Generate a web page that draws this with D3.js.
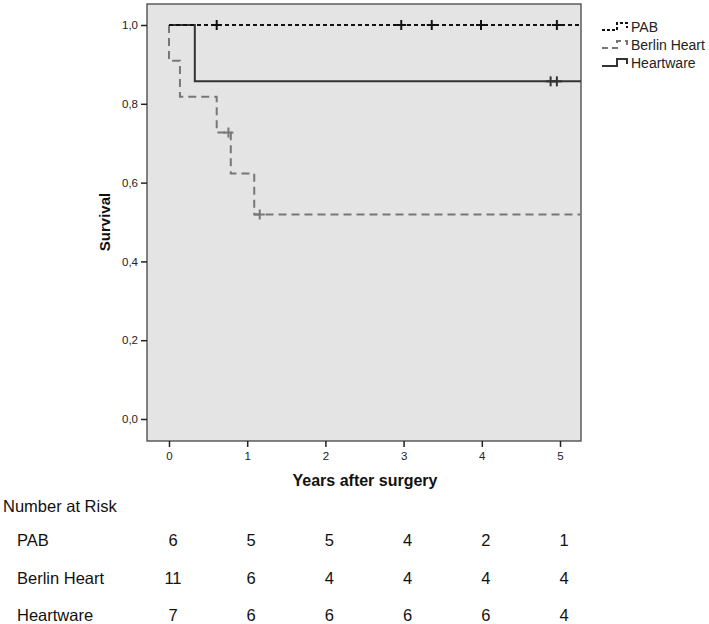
<!DOCTYPE html>
<html><head><meta charset="utf-8">
<script src="https://cdn.jsdelivr.net/npm/d3@7"></script>
<style>body{margin:0;background:#fff;font-family:"Liberation Sans",Arial,sans-serif}</style>
</head><body><svg id="c" width="709" height="624"></svg>
<script>
// Data
const groups = ["PAB", "Berlin Heart", "Heartware"];
const pabTimes = [0, 5.27];
const pabSurv = [1.0, 1.0];
const pabCensor = [0.61, 2.97, 3.36, 3.99, 4.96];
const berlinTimes = [0, 0.0, 0.14, 0.61, 0.79, 1.09, 5.27];
const berlinSurv = [1.0, 0.909, 0.818, 0.727, 0.623, 0.519, 0.519];
const berlinCensor = [0.76, 1.16];
const heartTimes = [0, 0.33, 5.27];
const heartSurv = [1.0, 0.857, 0.857];
const heartCensor = [4.88, 4.96];
const xTicks = [0, 1, 2, 3, 4, 5];
const yTicks = [0, 0.2, 0.4, 0.6, 0.8, 1.0];
const riskPAB = [6, 5, 5, 4, 2, 1];
const riskBerlin = [11, 6, 4, 4, 4, 4];
const riskHeart = [7, 6, 6, 6, 6, 4];

const svg = d3.select("#c");
const L = 147, R = 581, T = 4, B = 441;
const x = d3.scaleLinear().domain([0, 5]).range([169, 560]);
const y = d3.scaleLinear().domain([0, 1]).range([419, 25]);

svg.append("rect").attr("x", L).attr("y", T).attr("width", R - L).attr("height", B - T)
  .attr("fill", "#e4e4e4").attr("stroke", "#444").attr("stroke-width", 1.3);

// axes
const yAxis = d3.axisLeft(y).tickValues(yTicks).tickSize(6).tickFormat(d => d3.format(".1f")(d).replace(".", ","));
const gy = svg.append("g").attr("transform", `translate(${L},0)`).call(yAxis);
gy.select(".domain").remove();
gy.selectAll("line").attr("stroke", "#222").attr("stroke-width", 1.5);
gy.selectAll("text").attr("font-size", 11.5).attr("fill", "#222").attr("font-family", "Liberation Sans, Arial");

const xAxis = d3.axisBottom(x).tickValues(xTicks).tickSize(6).tickPadding(5).tickFormat(d3.format("d"));
const gx = svg.append("g").attr("transform", `translate(0,${B})`).call(xAxis);
gx.select(".domain").remove();
gx.selectAll("line").attr("stroke", "#222").attr("stroke-width", 1.5);
gx.selectAll("text").attr("font-size", 11.5).attr("fill", "#222").attr("font-family", "Liberation Sans, Arial");

svg.append("text").attr("x", 365).attr("y", 486).attr("text-anchor", "middle")
  .attr("font-size", 16).attr("font-weight", "bold").attr("fill", "#111").text("Years after surgery");
svg.append("text").attr("transform", "translate(110,222) rotate(-90)").attr("text-anchor", "middle")
  .attr("font-size", 15).attr("font-weight", "bold").attr("fill", "#111").text("Survival");

const clip = svg.append("clipPath").attr("id", "pc").append("rect")
  .attr("x", L).attr("y", T).attr("width", R - L).attr("height", B - T);
const plot = svg.append("g").attr("clip-path", "url(#pc)");

const line = d3.line().x(d => x(d[0])).y(d => y(d[1])).curve(d3.curveStepAfter);
function series(times, surv, censor, color, dash, width) {
  const pts = times.map((t, i) => [t, surv[i]]);
  plot.append("path").attr("d", line(pts)).attr("fill", "none").attr("stroke", color)
    .attr("stroke-width", width).attr("stroke-dasharray", dash);
  const survAt = t => { let s = surv[0]; times.forEach((tt, i) => { if (tt <= t) s = surv[i]; }); return s; };
  censor.forEach(c => {
    const cx = x(c), cy = y(survAt(c));
    plot.append("line").attr("x1", cx).attr("x2", cx).attr("y1", cy - 5).attr("y2", cy + 5)
      .attr("stroke", color).attr("stroke-width", 2);
    plot.append("line").attr("x1", cx - 5).attr("x2", cx + 5).attr("y1", cy).attr("y2", cy)
      .attr("stroke", color).attr("stroke-width", 2);
  });
}
series(heartTimes, heartSurv, heartCensor, "#333", null, 2);
series(berlinTimes, berlinSurv, berlinCensor, "#777", "8,5", 2);
series(pabTimes, pabSurv, pabCensor, "#111", "4,3", 2);

// legend
const leg = [
  {name: groups[0], color: "#111", dash: "3,2"},
  {name: groups[1], color: "#777", dash: "6,4"},
  {name: groups[2], color: "#333", dash: null}
];
leg.forEach((l, i) => {
  const yy = 27 + i * 18;
  svg.append("path").attr("d", `M602,${yy + 3}H617V${yy - 4}H627V${yy + 1}`)
    .attr("fill", "none").attr("stroke", l.color).attr("stroke-width", 2).attr("stroke-dasharray", l.dash);
  svg.append("text").attr("x", 631).attr("y", yy + 5).attr("font-size", 14).attr("fill", "#222").text(l.name);
});

// number at risk table
svg.append("text").attr("x", 3).attr("y", 512).attr("font-size", 16.5).attr("fill", "#111").text("Number at Risk");
const rows = [[groups[0], riskPAB, 546], [groups[1], riskBerlin, 584], [groups[2], riskHeart, 621]];
rows.forEach(([name, vals, yy]) => {
  svg.append("text").attr("x", 17).attr("y", yy).attr("font-size", 16.5).attr("fill", "#111").text(name);
  vals.forEach((v, i) => {
    svg.append("text").attr("x", x(xTicks[i]) + 4).attr("y", yy).attr("text-anchor", "middle")
      .attr("font-size", 16.5).attr("fill", "#111").text(v);
  });
});
</script></body></html>
